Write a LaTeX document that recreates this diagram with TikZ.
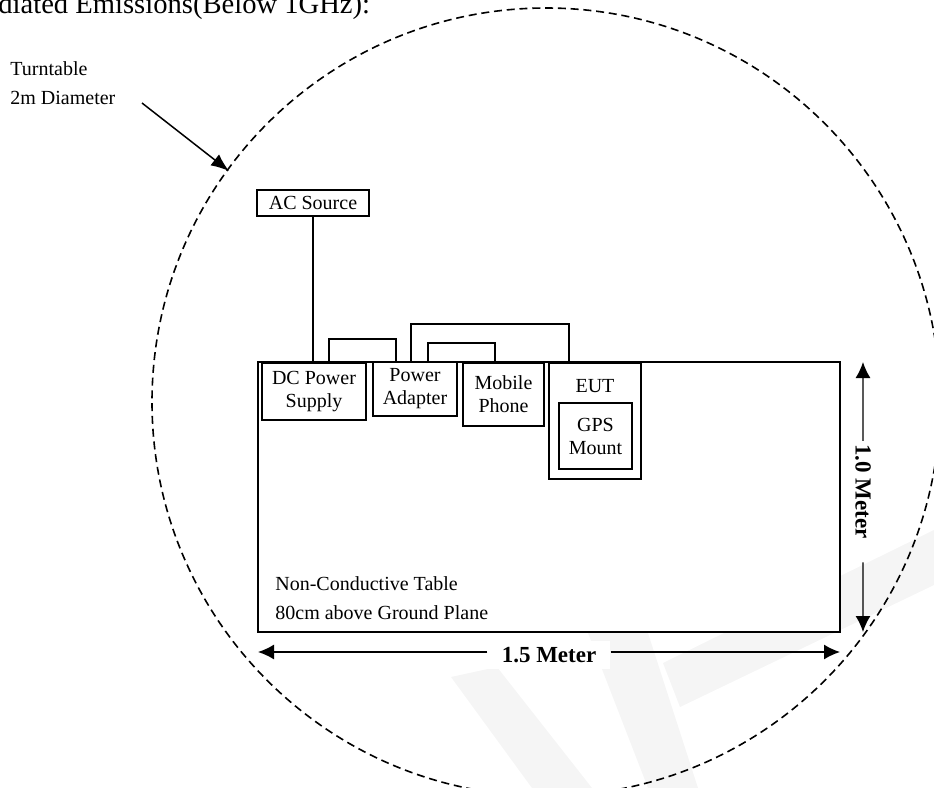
\documentclass[tikz,border=0pt]{standalone}
\usepackage{fontspec}
\setmainfont{Liberation Serif}
\usepackage{tikz}
\usetikzlibrary{arrows.meta}
\usetikzlibrary{positioning}
\usetikzlibrary{calc}

\tikzset{
    box/.style={draw,line width=0.6pt,outer sep=0pt,inner sep=1pt,align=center,
        font=\fontsize{10}{11.5}\selectfont},
    tablebox/.style={draw,line width=1.4pt,outer sep=0pt,fill=white},
    turn/.style={line width=0.8pt,dash pattern=on 4pt off 2.4pt},
    dim/.style={line width=0.7pt,-{Latex[length=8pt,width=7.5pt]}},
    dimlabel/.style={fill=white,inner ysep=3pt,font=\fontsize{11.5}{13}\selectfont\bfseries},
    plain/.style={align=left,inner sep=0pt,font=\fontsize{10}{14.5}\selectfont}
}

\begin{document}
\begin{tikzpicture}[x=0.5pt,y=-0.5pt]
    \useasboundingbox (0,0) rectangle (934,788);
    % faint watermark
    \fill[black!4] (451,677) -- (497,667) -- (592,788) -- (532,788) -- cycle;
    \fill[black!4] (588,633) -- (648,633) -- (698,788) -- (648,788) -- cycle;
    \fill[black!4] (663,663) -- (934,530) -- (934,585) -- (680,707) -- cycle;

    \node[anchor=base west,inner sep=0pt,font=\fontsize{14.3}{17}\selectfont] (title) at (-2,13) {diated Emissions(Below 1GHz):};

    % turntable
    \draw[turn] (546,402) circle (394);
    \node[plain,anchor=north west] (tt) at (10,61) {Turntable\\2m Diameter};
    \coordinate (tfrom) at (142,103);
    \coordinate (tto) at (229,171);
    \draw[line width=0.75pt,-{Latex[length=9pt,width=7pt]}] (tfrom) -- (tto);

    % table
    \node[tablebox,minimum width=291pt,minimum height=135pt,anchor=north west] (tbl) at (258,362) {};
    \node[plain,anchor=north west] (tbltxt) at (275,576) {Non-Conductive Table\\80cm above Ground Plane};

    % equipment
    \node[box,minimum width=56pt,minimum height=13pt] (acs) at (313,203) {AC Source};
    \node[box,minimum width=52pt,minimum height=28.5pt,anchor=north west] (dcps) at (262,363) {DC Power\\Supply};
    \node[box,minimum width=42pt,minimum height=27pt,anchor=north west] (pwr) at (373,362) {Power\\Adapter};
    \node[box,minimum width=40.5pt,minimum height=31.5pt,anchor=north west] (mob) at (463,363) {Mobile\\Phone};
    \node[box,minimum width=46pt,minimum height=58pt,anchor=north west] (eut) at (549,363) {};
    \node[inner sep=0pt,font=\fontsize{10}{11.5}\selectfont,below=8pt of eut.north] (euttxt) {EUT};
    \node[box,minimum width=36.5pt,minimum height=33pt,anchor=north west] (gps) at (559,403) {GPS\\Mount};

    % cables
    \draw[line width=0.6pt] (acs.south) -- (acs.south |- dcps.north);
    \draw[line width=0.6pt] ([xshift=7.5pt]dcps.north) -- ++(0,-24) -| ([xshift=-9.5pt]pwr.north);
    \draw[line width=0.6pt] ([xshift=6.5pt]pwr.north) -- ++(0,-19) -| ([xshift=-4.25pt]mob.north);
    \draw[line width=0.6pt] ([xshift=-2pt]pwr.north) -- ++(0,-38) -| ([xshift=-13pt]eut.north);

    % dimensions
    \coordinate (hl) at ([yshift=-10pt]tbl.south west);
    \coordinate (hr) at ([yshift=-10pt]tbl.south east);
    \coordinate (vt) at ([xshift=11.5pt]tbl.north east);
    \coordinate (vb) at ([xshift=11.5pt]tbl.south east);
    \node[dimlabel,inner xsep=7pt] (hlab) at ($(hl)!0.5!(hr)+(0,3)$) {1.5 Meter};
    \draw[dim] (hlab.west |- hl) -- (hl);
    \draw[dim] (hlab.east |- hr) -- (hr);
    \node[dimlabel,inner xsep=1.5pt,rotate=-90] (vlab) at ($(vt)!0.48!(vb)$) {1.0 Meter};
    \draw[dim] (vlab.west) -- (vt);
    \draw[dim] ([yshift=-10pt]vlab.east) -- (vb);
\end{tikzpicture}
\end{document}
